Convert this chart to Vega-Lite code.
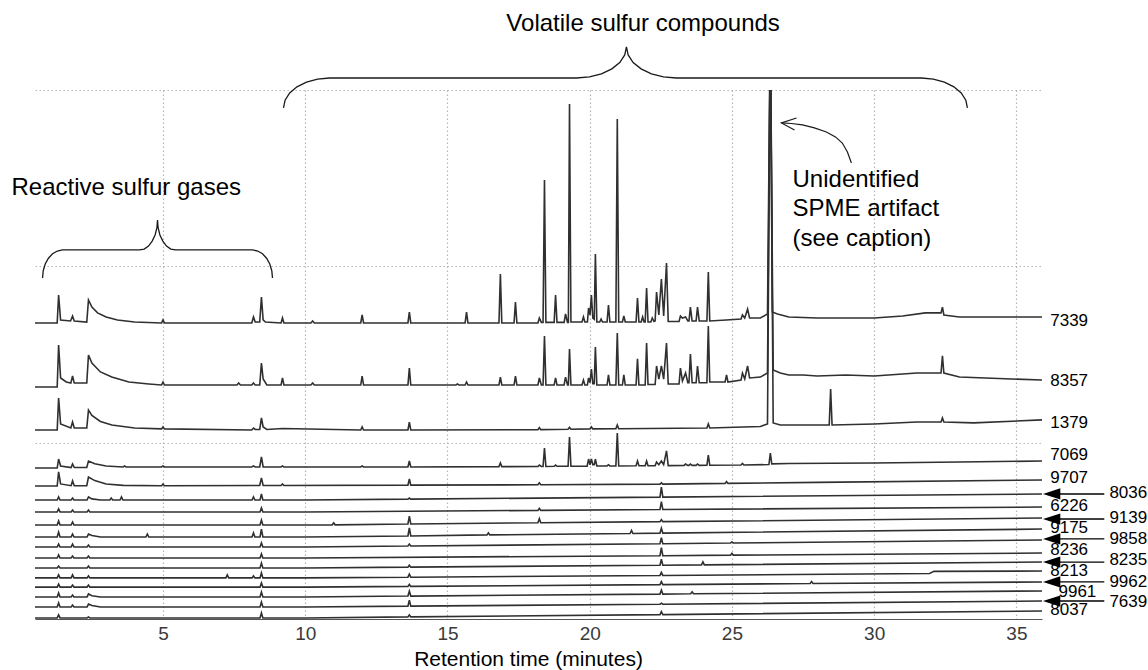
{
"$schema": "https://vega.github.io/schema/vega-lite/v6.json",
"width": 1007, "height": 529,
"autosize": {"type": "none"},
"padding": {"left": 35, "top": 90, "right": 106, "bottom": 51},
"background": "white",
"config": {"view": {"stroke": null}, "font": "Liberation Sans"},
"datasets": {
"tr": [
{"s":"7339","t":0.5,"v":167.9},{"s":"7339","t":1.28,"v":167.9},{"s":"7339","t":1.33,"v":183.7},{"s":"7339","t":1.4,"v":169.6},{"s":"7339","t":1.75,"v":169.0},{"s":"7339","t":1.82,"v":171.8},{"s":"7339","t":1.88,"v":169.0},{"s":"7339","t":2.32,"v":168.4},{"s":"7339","t":2.38,"v":180.9},{"s":"7339","t":2.5,"v":176.9},{"s":"7339","t":2.7,"v":173.6},{"s":"7339","t":3.0,"v":171.3},{"s":"7339","t":3.4,"v":169.6},{"s":"7339","t":4.0,"v":168.4},{"s":"7339","t":4.95,"v":167.9},{"s":"7339","t":5.0,"v":169.6},{"s":"7339","t":5.05,"v":167.9},{"s":"7339","t":8.12,"v":167.9},{"s":"7339","t":8.18,"v":171.3},{"s":"7339","t":8.24,"v":168.4},{"s":"7339","t":8.4,"v":168.4},{"s":"7339","t":8.46,"v":182.6},{"s":"7339","t":8.52,"v":169.6},{"s":"7339","t":8.6,"v":168.4},{"s":"7339","t":9.15,"v":167.9},{"s":"7339","t":9.2,"v":170.7},{"s":"7339","t":9.25,"v":167.9},{"s":"7339","t":10.2,"v":167.9},{"s":"7339","t":10.26,"v":169.0},{"s":"7339","t":10.32,"v":167.9},{"s":"7339","t":11.95,"v":167.9},{"s":"7339","t":12.0,"v":172.4},{"s":"7339","t":12.05,"v":167.9},{"s":"7339","t":13.61,"v":167.9},{"s":"7339","t":13.66,"v":174.1},{"s":"7339","t":13.71,"v":167.9},{"s":"7339","t":15.62,"v":167.9},{"s":"7339","t":15.67,"v":174.1},{"s":"7339","t":15.72,"v":167.9},{"s":"7339","t":16.81,"v":167.9},{"s":"7339","t":16.86,"v":195.7},{"s":"7339","t":16.91,"v":167.9},{"s":"7339","t":17.34,"v":167.9},{"s":"7339","t":17.39,"v":179.8},{"s":"7339","t":17.44,"v":167.9},{"s":"7339","t":18.18,"v":167.9},{"s":"7339","t":18.23,"v":170.7},{"s":"7339","t":18.3,"v":168.2},{"s":"7339","t":18.36,"v":168.2},{"s":"7339","t":18.41,"v":249.0},{"s":"7339","t":18.46,"v":168.2},{"s":"7339","t":18.75,"v":168.2},{"s":"7339","t":18.8,"v":183.7},{"s":"7339","t":18.85,"v":168.2},{"s":"7339","t":19.1,"v":168.2},{"s":"7339","t":19.15,"v":173.0},{"s":"7339","t":19.22,"v":168.2},{"s":"7339","t":19.25,"v":168.2},{"s":"7339","t":19.29,"v":292.1},{"s":"7339","t":19.34,"v":168.4},{"s":"7339","t":19.73,"v":168.4},{"s":"7339","t":19.78,"v":171.3},{"s":"7339","t":19.83,"v":168.4},{"s":"7339","t":19.92,"v":168.4},{"s":"7339","t":19.96,"v":176.4},{"s":"7339","t":20.01,"v":172.4},{"s":"7339","t":20.06,"v":183.7},{"s":"7339","t":20.11,"v":170.7},{"s":"7339","t":20.16,"v":170.0},{"s":"7339","t":20.2,"v":207.0},{"s":"7339","t":20.25,"v":168.4},{"s":"7339","t":20.35,"v":168.4},{"s":"7339","t":20.4,"v":170.1},{"s":"7339","t":20.45,"v":168.4},{"s":"7339","t":20.61,"v":168.4},{"s":"7339","t":20.66,"v":178.1},{"s":"7339","t":20.71,"v":168.4},{"s":"7339","t":20.92,"v":168.4},{"s":"7339","t":20.97,"v":283.6},{"s":"7339","t":21.02,"v":168.4},{"s":"7339","t":21.15,"v":168.4},{"s":"7339","t":21.2,"v":171.8},{"s":"7339","t":21.25,"v":168.4},{"s":"7339","t":21.63,"v":168.4},{"s":"7339","t":21.68,"v":182.0},{"s":"7339","t":21.73,"v":168.4},{"s":"7339","t":21.81,"v":168.4},{"s":"7339","t":21.86,"v":171.3},{"s":"7339","t":21.91,"v":168.4},{"s":"7339","t":21.95,"v":168.4},{"s":"7339","t":22.0,"v":187.7},{"s":"7339","t":22.05,"v":168.4},{"s":"7339","t":22.15,"v":168.4},{"s":"7339","t":22.2,"v":170.7},{"s":"7339","t":22.26,"v":168.7},{"s":"7339","t":22.3,"v":169.0},{"s":"7339","t":22.35,"v":185.4},{"s":"7339","t":22.43,"v":172.4},{"s":"7339","t":22.52,"v":192.8},{"s":"7339","t":22.6,"v":171.8},{"s":"7339","t":22.7,"v":201.9},{"s":"7339","t":22.76,"v":168.7},{"s":"7339","t":23.14,"v":168.7},{"s":"7339","t":23.19,"v":171.8},{"s":"7339","t":23.26,"v":170.7},{"s":"7339","t":23.37,"v":171.3},{"s":"7339","t":23.45,"v":169.0},{"s":"7339","t":23.49,"v":169.0},{"s":"7339","t":23.54,"v":176.9},{"s":"7339","t":23.6,"v":169.0},{"s":"7339","t":23.74,"v":169.0},{"s":"7339","t":23.79,"v":176.9},{"s":"7339","t":23.85,"v":169.0},{"s":"7339","t":24.12,"v":169.0},{"s":"7339","t":24.17,"v":196.8},{"s":"7339","t":24.22,"v":169.0},{"s":"7339","t":24.8,"v":169.6},{"s":"7339","t":25.32,"v":170.1},{"s":"7339","t":25.37,"v":172.4},{"s":"7339","t":25.45,"v":170.7},{"s":"7339","t":25.55,"v":175.8},{"s":"7339","t":25.62,"v":170.7},{"s":"7339","t":26.0,"v":170.7},{"s":"7339","t":26.25,"v":173.0},{"s":"7339","t":26.35,"v":340},{"s":"7339","t":26.42,"v":174.1},{"s":"7339","t":26.6,"v":173.0},{"s":"7339","t":27.0,"v":171.3},{"s":"7339","t":28.0,"v":170.7},{"s":"7339","t":30.0,"v":170.7},{"s":"7339","t":31.0,"v":171.8},{"s":"7339","t":31.8,"v":173.6},{"s":"7339","t":32.35,"v":173.6},{"s":"7339","t":32.4,"v":176.9},{"s":"7339","t":32.45,"v":172.4},{"s":"7339","t":33.0,"v":171.3},{"s":"7339","t":35.9,"v":171.3},
{"s":"8357","t":0.5,"v":131.6},{"s":"8357","t":1.28,"v":131.6},{"s":"8357","t":1.33,"v":155.4},{"s":"8357","t":1.4,"v":136.7},{"s":"8357","t":1.6,"v":134.4},{"s":"8357","t":1.76,"v":133.8},{"s":"8357","t":1.82,"v":137.8},{"s":"8357","t":1.88,"v":133.8},{"s":"8357","t":2.32,"v":133.8},{"s":"8357","t":2.38,"v":149.7},{"s":"8357","t":2.5,"v":145.2},{"s":"8357","t":2.8,"v":140.1},{"s":"8357","t":3.2,"v":137.2},{"s":"8357","t":3.8,"v":134.4},{"s":"8357","t":4.5,"v":133.3},{"s":"8357","t":4.95,"v":132.7},{"s":"8357","t":5.0,"v":134.4},{"s":"8357","t":5.05,"v":132.7},{"s":"8357","t":7.6,"v":132.7},{"s":"8357","t":7.66,"v":133.8},{"s":"8357","t":7.72,"v":132.7},{"s":"8357","t":8.12,"v":132.7},{"s":"8357","t":8.18,"v":133.8},{"s":"8357","t":8.24,"v":132.7},{"s":"8357","t":8.4,"v":132.7},{"s":"8357","t":8.46,"v":145.2},{"s":"8357","t":8.52,"v":136.1},{"s":"8357","t":8.65,"v":132.7},{"s":"8357","t":9.15,"v":132.7},{"s":"8357","t":9.2,"v":136.7},{"s":"8357","t":9.25,"v":132.7},{"s":"8357","t":10.2,"v":132.7},{"s":"8357","t":10.26,"v":133.8},{"s":"8357","t":10.32,"v":132.7},{"s":"8357","t":11.95,"v":132.7},{"s":"8357","t":12.0,"v":137.8},{"s":"8357","t":12.05,"v":132.7},{"s":"8357","t":13.61,"v":132.7},{"s":"8357","t":13.66,"v":142.3},{"s":"8357","t":13.71,"v":132.7},{"s":"8357","t":15.3,"v":132.7},{"s":"8357","t":15.35,"v":133.3},{"s":"8357","t":15.4,"v":132.7},{"s":"8357","t":15.62,"v":132.7},{"s":"8357","t":15.67,"v":134.4},{"s":"8357","t":15.72,"v":132.7},{"s":"8357","t":16.81,"v":132.7},{"s":"8357","t":16.86,"v":137.2},{"s":"8357","t":16.91,"v":132.7},{"s":"8357","t":17.34,"v":132.7},{"s":"8357","t":17.39,"v":137.8},{"s":"8357","t":17.44,"v":132.7},{"s":"8357","t":18.18,"v":132.7},{"s":"8357","t":18.23,"v":136.7},{"s":"8357","t":18.3,"v":132.7},{"s":"8357","t":18.36,"v":132.7},{"s":"8357","t":18.41,"v":160.5},{"s":"8357","t":18.46,"v":132.7},{"s":"8357","t":18.75,"v":132.7},{"s":"8357","t":18.8,"v":136.7},{"s":"8357","t":18.85,"v":132.7},{"s":"8357","t":19.1,"v":132.7},{"s":"8357","t":19.15,"v":137.2},{"s":"8357","t":19.22,"v":132.7},{"s":"8357","t":19.25,"v":132.7},{"s":"8357","t":19.29,"v":153.1},{"s":"8357","t":19.34,"v":132.7},{"s":"8357","t":19.73,"v":132.7},{"s":"8357","t":19.78,"v":135.5},{"s":"8357","t":19.83,"v":132.7},{"s":"8357","t":19.92,"v":132.7},{"s":"8357","t":19.96,"v":136.7},{"s":"8357","t":20.01,"v":134.0},{"s":"8357","t":20.06,"v":141.8},{"s":"8357","t":20.11,"v":133.5},{"s":"8357","t":20.16,"v":133.5},{"s":"8357","t":20.2,"v":154.3},{"s":"8357","t":20.25,"v":132.7},{"s":"8357","t":20.61,"v":132.7},{"s":"8357","t":20.66,"v":138.4},{"s":"8357","t":20.71,"v":132.7},{"s":"8357","t":20.92,"v":132.7},{"s":"8357","t":20.97,"v":162.2},{"s":"8357","t":21.02,"v":132.7},{"s":"8357","t":21.15,"v":132.7},{"s":"8357","t":21.2,"v":138.4},{"s":"8357","t":21.25,"v":132.7},{"s":"8357","t":21.63,"v":132.7},{"s":"8357","t":21.68,"v":147.5},{"s":"8357","t":21.73,"v":132.7},{"s":"8357","t":21.95,"v":132.7},{"s":"8357","t":22.0,"v":156.5},{"s":"8357","t":22.05,"v":133.0},{"s":"8357","t":22.3,"v":133.0},{"s":"8357","t":22.35,"v":143.5},{"s":"8357","t":22.43,"v":136.0},{"s":"8357","t":22.52,"v":143.5},{"s":"8357","t":22.6,"v":136.0},{"s":"8357","t":22.7,"v":156.5},{"s":"8357","t":22.76,"v":133.3},{"s":"8357","t":23.14,"v":133.3},{"s":"8357","t":23.19,"v":142.3},{"s":"8357","t":23.26,"v":135.0},{"s":"8357","t":23.37,"v":139.5},{"s":"8357","t":23.45,"v":134.0},{"s":"8357","t":23.49,"v":134.0},{"s":"8357","t":23.54,"v":150.3},{"s":"8357","t":23.6,"v":134.0},{"s":"8357","t":23.74,"v":134.0},{"s":"8357","t":23.79,"v":143.5},{"s":"8357","t":23.85,"v":134.0},{"s":"8357","t":24.12,"v":134.0},{"s":"8357","t":24.17,"v":166.2},{"s":"8357","t":24.22,"v":134.4},{"s":"8357","t":24.76,"v":134.4},{"s":"8357","t":24.81,"v":138.4},{"s":"8357","t":24.86,"v":134.4},{"s":"8357","t":25.32,"v":135.5},{"s":"8357","t":25.37,"v":139.5},{"s":"8357","t":25.45,"v":136.1},{"s":"8357","t":25.55,"v":143.5},{"s":"8357","t":25.62,"v":136.7},{"s":"8357","t":26.0,"v":137.2},{"s":"8357","t":26.25,"v":139.5},{"s":"8357","t":26.35,"v":340},{"s":"8357","t":26.45,"v":141.2},{"s":"8357","t":26.7,"v":139.5},{"s":"8357","t":27.0,"v":138.4},{"s":"8357","t":27.5,"v":138.4},{"s":"8357","t":28.0,"v":137.8},{"s":"8357","t":29.0,"v":138.4},{"s":"8357","t":30.0,"v":137.8},{"s":"8357","t":31.5,"v":139.5},{"s":"8357","t":32.35,"v":139.5},{"s":"8357","t":32.4,"v":149.2},{"s":"8357","t":32.45,"v":139.5},{"s":"8357","t":33.0,"v":137.2},{"s":"8357","t":35.9,"v":135.5},
{"s":"1379","t":0.5,"v":107.2},{"s":"1379","t":1.28,"v":107.2},{"s":"1379","t":1.33,"v":125.3},{"s":"1379","t":1.4,"v":110.6},{"s":"1379","t":1.76,"v":108.3},{"s":"1379","t":1.82,"v":111.7},{"s":"1379","t":1.88,"v":108.3},{"s":"1379","t":2.32,"v":108.3},{"s":"1379","t":2.38,"v":118.5},{"s":"1379","t":2.5,"v":115.5},{"s":"1379","t":2.8,"v":112.0},{"s":"1379","t":3.2,"v":110.0},{"s":"1379","t":4.0,"v":108.3},{"s":"1379","t":4.95,"v":107.8},{"s":"1379","t":5.0,"v":108.9},{"s":"1379","t":5.05,"v":107.8},{"s":"1379","t":8.12,"v":107.2},{"s":"1379","t":8.18,"v":108.3},{"s":"1379","t":8.24,"v":107.5},{"s":"1379","t":8.4,"v":107.5},{"s":"1379","t":8.46,"v":114.0},{"s":"1379","t":8.52,"v":108.9},{"s":"1379","t":8.65,"v":107.5},{"s":"1379","t":9.2,"v":108.0},{"s":"1379","t":11.95,"v":107.2},{"s":"1379","t":12.0,"v":108.9},{"s":"1379","t":12.05,"v":107.2},{"s":"1379","t":13.61,"v":107.2},{"s":"1379","t":13.66,"v":111.7},{"s":"1379","t":13.71,"v":107.2},{"s":"1379","t":18.18,"v":107.4},{"s":"1379","t":18.23,"v":108.5},{"s":"1379","t":18.28,"v":107.4},{"s":"1379","t":19.24,"v":107.6},{"s":"1379","t":19.29,"v":108.7},{"s":"1379","t":19.34,"v":107.6},{"s":"1379","t":20.01,"v":107.8},{"s":"1379","t":20.06,"v":108.9},{"s":"1379","t":20.11,"v":107.8},{"s":"1379","t":20.92,"v":107.9},{"s":"1379","t":20.97,"v":110.0},{"s":"1379","t":21.02,"v":107.9},{"s":"1379","t":24.12,"v":108.3},{"s":"1379","t":24.17,"v":110.6},{"s":"1379","t":24.22,"v":108.3},{"s":"1379","t":26.0,"v":109.2},{"s":"1379","t":26.25,"v":110.6},{"s":"1379","t":26.35,"v":340},{"s":"1379","t":26.45,"v":111.2},{"s":"1379","t":26.7,"v":110.0},{"s":"1379","t":28.42,"v":110.0},{"s":"1379","t":28.47,"v":130.4},{"s":"1379","t":28.52,"v":110.0},{"s":"1379","t":30.0,"v":110.6},{"s":"1379","t":31.5,"v":111.7},{"s":"1379","t":32.35,"v":111.7},{"s":"1379","t":32.4,"v":114.0},{"s":"1379","t":32.45,"v":111.7},{"s":"1379","t":33.5,"v":111.2},{"s":"1379","t":35.9,"v":112.9},
{"s":"7069","t":0.5,"v":85.6},{"s":"7069","t":1.28,"v":85.6},{"s":"7069","t":1.33,"v":90.7},{"s":"7069","t":1.4,"v":86.8},{"s":"7069","t":1.77,"v":85.9},{"s":"7069","t":1.82,"v":87.9},{"s":"7069","t":1.88,"v":85.9},{"s":"7069","t":2.32,"v":85.9},{"s":"7069","t":2.38,"v":89.6},{"s":"7069","t":2.6,"v":88.0},{"s":"7069","t":3.0,"v":86.8},{"s":"7069","t":3.6,"v":86.2},{"s":"7069","t":3.65,"v":86.8},{"s":"7069","t":3.7,"v":86.2},{"s":"7069","t":4.95,"v":86.2},{"s":"7069","t":5.0,"v":86.8},{"s":"7069","t":5.05,"v":86.2},{"s":"7069","t":8.12,"v":86.2},{"s":"7069","t":8.18,"v":86.8},{"s":"7069","t":8.24,"v":86.2},{"s":"7069","t":8.4,"v":86.2},{"s":"7069","t":8.46,"v":91.9},{"s":"7069","t":8.52,"v":86.2},{"s":"7069","t":9.15,"v":86.2},{"s":"7069","t":9.2,"v":86.8},{"s":"7069","t":9.25,"v":86.2},{"s":"7069","t":11.95,"v":86.2},{"s":"7069","t":12.0,"v":86.8},{"s":"7069","t":12.05,"v":86.2},{"s":"7069","t":13.61,"v":86.2},{"s":"7069","t":13.66,"v":89.6},{"s":"7069","t":13.71,"v":86.2},{"s":"7069","t":16.81,"v":86.4},{"s":"7069","t":16.86,"v":88.5},{"s":"7069","t":16.91,"v":86.4},{"s":"7069","t":18.18,"v":86.5},{"s":"7069","t":18.23,"v":87.3},{"s":"7069","t":18.3,"v":86.5},{"s":"7069","t":18.36,"v":86.5},{"s":"7069","t":18.41,"v":97.0},{"s":"7069","t":18.46,"v":86.5},{"s":"7069","t":18.75,"v":86.6},{"s":"7069","t":18.8,"v":87.3},{"s":"7069","t":18.85,"v":86.6},{"s":"7069","t":19.24,"v":86.6},{"s":"7069","t":19.29,"v":103.2},{"s":"7069","t":19.34,"v":86.6},{"s":"7069","t":19.91,"v":86.7},{"s":"7069","t":19.96,"v":90.7},{"s":"7069","t":20.01,"v":87.5},{"s":"7069","t":20.06,"v":90.7},{"s":"7069","t":20.11,"v":87.5},{"s":"7069","t":20.16,"v":87.5},{"s":"7069","t":20.2,"v":90.7},{"s":"7069","t":20.25,"v":86.8},{"s":"7069","t":20.61,"v":86.8},{"s":"7069","t":20.66,"v":87.5},{"s":"7069","t":20.71,"v":86.8},{"s":"7069","t":20.92,"v":86.8},{"s":"7069","t":20.97,"v":105.5},{"s":"7069","t":21.02,"v":86.8},{"s":"7069","t":21.63,"v":86.9},{"s":"7069","t":21.68,"v":89.6},{"s":"7069","t":21.73,"v":86.9},{"s":"7069","t":21.95,"v":86.9},{"s":"7069","t":22.0,"v":89.6},{"s":"7069","t":22.05,"v":86.9},{"s":"7069","t":22.3,"v":87.0},{"s":"7069","t":22.35,"v":89.0},{"s":"7069","t":22.43,"v":87.5},{"s":"7069","t":22.52,"v":89.6},{"s":"7069","t":22.6,"v":87.5},{"s":"7069","t":22.7,"v":95.3},{"s":"7069","t":22.76,"v":87.0},{"s":"7069","t":23.32,"v":87.1},{"s":"7069","t":23.37,"v":87.9},{"s":"7069","t":23.45,"v":87.1},{"s":"7069","t":23.49,"v":87.1},{"s":"7069","t":23.54,"v":87.9},{"s":"7069","t":23.6,"v":87.1},{"s":"7069","t":23.74,"v":87.1},{"s":"7069","t":23.79,"v":87.9},{"s":"7069","t":23.85,"v":87.1},{"s":"7069","t":24.12,"v":87.2},{"s":"7069","t":24.17,"v":93.0},{"s":"7069","t":24.22,"v":87.2},{"s":"7069","t":25.32,"v":87.3},{"s":"7069","t":25.37,"v":88.2},{"s":"7069","t":25.42,"v":87.3},{"s":"7069","t":26.3,"v":87.6},{"s":"7069","t":26.35,"v":94.1},{"s":"7069","t":26.4,"v":88.0},{"s":"7069","t":27.0,"v":88.2},{"s":"7069","t":30.0,"v":88.5},{"s":"7069","t":33.0,"v":89.0},{"s":"7069","t":35.9,"v":89.6},
{"s":"9707","t":0.5,"v":75.4},{"s":"9707","t":1.28,"v":75.4},{"s":"9707","t":1.33,"v":83.4},{"s":"9707","t":1.4,"v":76.6},{"s":"9707","t":1.77,"v":75.6},{"s":"9707","t":1.82,"v":78.3},{"s":"9707","t":1.88,"v":75.6},{"s":"9707","t":2.32,"v":75.6},{"s":"9707","t":2.38,"v":80.5},{"s":"9707","t":2.6,"v":78.5},{"s":"9707","t":3.0,"v":76.6},{"s":"9707","t":3.6,"v":75.8},{"s":"9707","t":4.95,"v":75.6},{"s":"9707","t":5.0,"v":76.6},{"s":"9707","t":5.05,"v":75.6},{"s":"9707","t":8.4,"v":75.7},{"s":"9707","t":8.46,"v":80.0},{"s":"9707","t":8.52,"v":75.7},{"s":"9707","t":9.15,"v":75.7},{"s":"9707","t":9.2,"v":76.6},{"s":"9707","t":9.25,"v":75.7},{"s":"9707","t":13.61,"v":75.9},{"s":"9707","t":13.66,"v":79.4},{"s":"9707","t":13.71,"v":75.9},{"s":"9707","t":18.18,"v":76.1},{"s":"9707","t":18.23,"v":77.2},{"s":"9707","t":18.28,"v":76.1},{"s":"9707","t":22.47,"v":76.5},{"s":"9707","t":22.52,"v":77.2},{"s":"9707","t":22.57,"v":76.5},{"s":"9707","t":24.76,"v":76.9},{"s":"9707","t":24.81,"v":77.9},{"s":"9707","t":24.86,"v":76.9},{"s":"9707","t":28.0,"v":77.5},{"s":"9707","t":35.9,"v":78.8},
{"s":"8036","t":0.5,"v":67.5},{"s":"8036","t":1.28,"v":67.5},{"s":"8036","t":1.33,"v":69.2},{"s":"8036","t":1.38,"v":67.5},{"s":"8036","t":1.77,"v":67.5},{"s":"8036","t":1.82,"v":68.6},{"s":"8036","t":1.87,"v":67.5},{"s":"8036","t":2.33,"v":67.5},{"s":"8036","t":2.38,"v":69.2},{"s":"8036","t":2.5,"v":68.1},{"s":"8036","t":2.8,"v":67.5},{"s":"8036","t":3.13,"v":67.5},{"s":"8036","t":3.18,"v":68.6},{"s":"8036","t":3.23,"v":67.5},{"s":"8036","t":3.49,"v":67.5},{"s":"8036","t":3.54,"v":69.2},{"s":"8036","t":3.59,"v":67.5},{"s":"8036","t":8.13,"v":67.5},{"s":"8036","t":8.18,"v":69.2},{"s":"8036","t":8.23,"v":67.5},{"s":"8036","t":8.41,"v":67.5},{"s":"8036","t":8.46,"v":70.9},{"s":"8036","t":8.51,"v":67.5},{"s":"8036","t":10,"v":67.5},{"s":"8036","t":13.61,"v":68.0},{"s":"8036","t":13.66,"v":68.6},{"s":"8036","t":13.71,"v":68.0},{"s":"8036","t":22.47,"v":69.1},{"s":"8036","t":22.52,"v":74.8},{"s":"8036","t":22.57,"v":69.1},{"s":"8036","t":35.9,"v":70.9},
{"s":"6226","t":0.5,"v":60.7},{"s":"6226","t":1.28,"v":60.7},{"s":"6226","t":1.33,"v":62.4},{"s":"6226","t":1.38,"v":60.7},{"s":"6226","t":1.77,"v":60.7},{"s":"6226","t":1.82,"v":61.8},{"s":"6226","t":1.87,"v":60.7},{"s":"6226","t":2.33,"v":60.7},{"s":"6226","t":2.38,"v":61.8},{"s":"6226","t":2.43,"v":60.7},{"s":"6226","t":8.41,"v":60.7},{"s":"6226","t":8.46,"v":63.0},{"s":"6226","t":8.51,"v":60.7},{"s":"6226","t":10,"v":60.7},{"s":"6226","t":18.18,"v":61.6},{"s":"6226","t":18.23,"v":62.7},{"s":"6226","t":18.28,"v":61.6},{"s":"6226","t":22.47,"v":62.1},{"s":"6226","t":22.52,"v":66.6},{"s":"6226","t":22.57,"v":62.1},{"s":"6226","t":35.9,"v":63.5},
{"s":"9139","t":0.5,"v":53.3},{"s":"9139","t":1.28,"v":53.3},{"s":"9139","t":1.33,"v":55.6},{"s":"9139","t":1.38,"v":53.3},{"s":"9139","t":1.77,"v":53.3},{"s":"9139","t":1.82,"v":55.0},{"s":"9139","t":1.87,"v":53.3},{"s":"9139","t":8.41,"v":53.3},{"s":"9139","t":8.46,"v":56.1},{"s":"9139","t":8.51,"v":53.3},{"s":"9139","t":10,"v":53.3},{"s":"9139","t":10.95,"v":53.4},{"s":"9139","t":11.0,"v":54.5},{"s":"9139","t":11.05,"v":53.4},{"s":"9139","t":13.61,"v":53.9},{"s":"9139","t":13.66,"v":58.4},{"s":"9139","t":13.71,"v":53.9},{"s":"9139","t":18.18,"v":54.6},{"s":"9139","t":18.23,"v":56.9},{"s":"9139","t":18.28,"v":54.6},{"s":"9139","t":22.47,"v":55.2},{"s":"9139","t":22.52,"v":56.3},{"s":"9139","t":22.57,"v":55.2},{"s":"9139","t":35.9,"v":57.3},
{"s":"9175","t":0.5,"v":46.5},{"s":"9175","t":1.28,"v":46.5},{"s":"9175","t":1.33,"v":49.3},{"s":"9175","t":1.38,"v":46.5},{"s":"9175","t":1.77,"v":46.5},{"s":"9175","t":1.82,"v":48.2},{"s":"9175","t":1.87,"v":46.5},{"s":"9175","t":2.33,"v":46.5},{"s":"9175","t":2.38,"v":48.2},{"s":"9175","t":2.5,"v":47.4},{"s":"9175","t":2.8,"v":46.5},{"s":"9175","t":4.4,"v":46.5},{"s":"9175","t":4.45,"v":48.2},{"s":"9175","t":4.5,"v":46.5},{"s":"9175","t":8.13,"v":46.5},{"s":"9175","t":8.18,"v":48.8},{"s":"9175","t":8.23,"v":46.5},{"s":"9175","t":8.41,"v":46.5},{"s":"9175","t":8.46,"v":51.0},{"s":"9175","t":8.51,"v":46.5},{"s":"9175","t":10,"v":46.5},{"s":"9175","t":13.61,"v":47.1},{"s":"9175","t":13.66,"v":51.6},{"s":"9175","t":13.71,"v":47.1},{"s":"9175","t":16.39,"v":47.7},{"s":"9175","t":16.44,"v":48.8},{"s":"9175","t":16.49,"v":47.7},{"s":"9175","t":21.42,"v":48.5},{"s":"9175","t":21.47,"v":50.2},{"s":"9175","t":21.52,"v":48.5},{"s":"9175","t":22.47,"v":48.7},{"s":"9175","t":22.52,"v":51.5},{"s":"9175","t":22.57,"v":48.7},{"s":"9175","t":35.9,"v":51.0},
{"s":"9858","t":0.5,"v":40.8},{"s":"9858","t":1.28,"v":40.8},{"s":"9858","t":1.33,"v":42.5},{"s":"9858","t":1.38,"v":40.8},{"s":"9858","t":1.77,"v":40.8},{"s":"9858","t":1.82,"v":42.5},{"s":"9858","t":1.87,"v":40.8},{"s":"9858","t":2.33,"v":40.8},{"s":"9858","t":2.38,"v":41.9},{"s":"9858","t":2.43,"v":40.8},{"s":"9858","t":8.41,"v":40.8},{"s":"9858","t":8.46,"v":43.1},{"s":"9858","t":8.51,"v":40.8},{"s":"9858","t":10,"v":40.8},{"s":"9858","t":13.61,"v":41.4},{"s":"9858","t":13.66,"v":42.5},{"s":"9858","t":13.71,"v":41.4},{"s":"9858","t":22.47,"v":42.7},{"s":"9858","t":22.52,"v":46.1},{"s":"9858","t":22.57,"v":42.7},{"s":"9858","t":24.95,"v":43.1},{"s":"9858","t":25.0,"v":43.7},{"s":"9858","t":25.05,"v":43.1},{"s":"9858","t":35.9,"v":44.8},
{"s":"8236","t":0.5,"v":34.6},{"s":"8236","t":1.28,"v":34.6},{"s":"8236","t":1.33,"v":36.3},{"s":"8236","t":1.38,"v":34.6},{"s":"8236","t":1.77,"v":34.6},{"s":"8236","t":1.82,"v":35.7},{"s":"8236","t":1.87,"v":34.6},{"s":"8236","t":2.33,"v":34.6},{"s":"8236","t":2.38,"v":35.7},{"s":"8236","t":2.43,"v":34.6},{"s":"8236","t":8.41,"v":34.6},{"s":"8236","t":8.46,"v":36.9},{"s":"8236","t":8.51,"v":34.6},{"s":"8236","t":10,"v":34.6},{"s":"8236","t":22.47,"v":35.9},{"s":"8236","t":22.52,"v":40.4},{"s":"8236","t":22.57,"v":35.9},{"s":"8236","t":24.95,"v":36.2},{"s":"8236","t":25.0,"v":37.3},{"s":"8236","t":25.05,"v":36.2},{"s":"8236","t":35.9,"v":37.4},
{"s":"8235","t":0.5,"v":28.9},{"s":"8235","t":1.28,"v":28.9},{"s":"8235","t":1.33,"v":30.0},{"s":"8235","t":1.38,"v":28.9},{"s":"8235","t":2.33,"v":28.9},{"s":"8235","t":2.38,"v":30.0},{"s":"8235","t":2.43,"v":28.9},{"s":"8235","t":8.41,"v":28.9},{"s":"8235","t":8.46,"v":31.7},{"s":"8235","t":8.51,"v":28.9},{"s":"8235","t":10,"v":28.9},{"s":"8235","t":13.61,"v":29.4},{"s":"8235","t":13.66,"v":30.5},{"s":"8235","t":13.71,"v":29.4},{"s":"8235","t":22.47,"v":30.5},{"s":"8235","t":22.52,"v":33.9},{"s":"8235","t":22.57,"v":30.5},{"s":"8235","t":23.93,"v":30.7},{"s":"8235","t":23.98,"v":32.4},{"s":"8235","t":24.03,"v":30.7},{"s":"8235","t":35.9,"v":32.3},
{"s":"8213","t":0.5,"v":23.3},{"s":"8213","t":1.28,"v":23.3},{"s":"8213","t":1.33,"v":25.0},{"s":"8213","t":1.38,"v":23.3},{"s":"8213","t":1.77,"v":23.3},{"s":"8213","t":1.82,"v":25.0},{"s":"8213","t":1.87,"v":23.3},{"s":"8213","t":2.33,"v":23.3},{"s":"8213","t":2.38,"v":24.4},{"s":"8213","t":2.43,"v":23.3},{"s":"8213","t":7.21,"v":23.3},{"s":"8213","t":7.26,"v":25.0},{"s":"8213","t":7.31,"v":23.3},{"s":"8213","t":8.13,"v":23.3},{"s":"8213","t":8.18,"v":24.4},{"s":"8213","t":8.23,"v":23.3},{"s":"8213","t":8.41,"v":23.3},{"s":"8213","t":8.46,"v":26.1},{"s":"8213","t":8.51,"v":23.3},{"s":"8213","t":10,"v":23.3},{"s":"8213","t":13.61,"v":23.7},{"s":"8213","t":13.66,"v":25.4},{"s":"8213","t":13.71,"v":23.7},{"s":"8213","t":22.47,"v":24.7},{"s":"8213","t":22.52,"v":26.4},{"s":"8213","t":22.57,"v":24.7},{"s":"8213","t":31.95,"v":25.8},{"s":"8213","t":32.1,"v":27.0},{"s":"8213","t":35.9,"v":27.2},
{"s":"9962","t":0.5,"v":18.1},{"s":"9962","t":1.28,"v":18.1},{"s":"9962","t":1.33,"v":19.8},{"s":"9962","t":1.38,"v":18.1},{"s":"9962","t":1.77,"v":18.1},{"s":"9962","t":1.82,"v":19.2},{"s":"9962","t":1.87,"v":18.1},{"s":"9962","t":2.33,"v":18.1},{"s":"9962","t":2.38,"v":19.2},{"s":"9962","t":2.43,"v":18.1},{"s":"9962","t":8.41,"v":18.1},{"s":"9962","t":8.46,"v":20.4},{"s":"9962","t":8.51,"v":18.1},{"s":"9962","t":10,"v":18.1},{"s":"9962","t":13.61,"v":18.5},{"s":"9962","t":13.66,"v":19.6},{"s":"9962","t":13.71,"v":18.5},{"s":"9962","t":22.47,"v":19.5},{"s":"9962","t":22.52,"v":21.2},{"s":"9962","t":22.57,"v":19.5},{"s":"9962","t":27.75,"v":20.1},{"s":"9962","t":27.8,"v":21.2},{"s":"9962","t":27.85,"v":20.1},{"s":"9962","t":35.9,"v":21.0},
{"s":"9961","t":0.5,"v":12.5},{"s":"9961","t":1.28,"v":12.5},{"s":"9961","t":1.33,"v":14.8},{"s":"9961","t":1.38,"v":12.5},{"s":"9961","t":1.77,"v":12.5},{"s":"9961","t":1.82,"v":13.6},{"s":"9961","t":1.87,"v":12.5},{"s":"9961","t":2.33,"v":12.5},{"s":"9961","t":2.38,"v":14.2},{"s":"9961","t":2.5,"v":13.2},{"s":"9961","t":2.8,"v":12.5},{"s":"9961","t":8.41,"v":12.5},{"s":"9961","t":8.46,"v":15.3},{"s":"9961","t":8.51,"v":12.5},{"s":"9961","t":10,"v":12.5},{"s":"9961","t":13.61,"v":13.0},{"s":"9961","t":13.66,"v":15.8},{"s":"9961","t":13.71,"v":13.0},{"s":"9961","t":22.47,"v":14.1},{"s":"9961","t":22.52,"v":16.4},{"s":"9961","t":22.57,"v":14.1},{"s":"9961","t":23.55,"v":14.3},{"s":"9961","t":23.6,"v":15.4},{"s":"9961","t":23.65,"v":14.3},{"s":"9961","t":35.9,"v":15.9},
{"s":"7639","t":0.5,"v":6.8},{"s":"7639","t":1.28,"v":6.8},{"s":"7639","t":1.33,"v":9.1},{"s":"7639","t":1.38,"v":6.8},{"s":"7639","t":1.77,"v":6.8},{"s":"7639","t":1.82,"v":7.9},{"s":"7639","t":1.87,"v":6.8},{"s":"7639","t":2.33,"v":6.8},{"s":"7639","t":2.38,"v":8.5},{"s":"7639","t":2.5,"v":7.6},{"s":"7639","t":2.8,"v":6.8},{"s":"7639","t":8.41,"v":6.8},{"s":"7639","t":8.46,"v":9.6},{"s":"7639","t":8.51,"v":6.8},{"s":"7639","t":10,"v":6.8},{"s":"7639","t":13.61,"v":7.3},{"s":"7639","t":13.66,"v":10.7},{"s":"7639","t":13.71,"v":7.3},{"s":"7639","t":22.47,"v":8.4},{"s":"7639","t":22.52,"v":9.0},{"s":"7639","t":22.57,"v":8.4},{"s":"7639","t":35.9,"v":10.2},
{"s":"8037","t":0.5,"v":0.6},{"s":"8037","t":1.28,"v":0.6},{"s":"8037","t":1.33,"v":2.3},{"s":"8037","t":1.38,"v":0.6},{"s":"8037","t":2.33,"v":0.6},{"s":"8037","t":2.38,"v":1.2},{"s":"8037","t":2.43,"v":0.6},{"s":"8037","t":8.41,"v":0.6},{"s":"8037","t":8.46,"v":3.4},{"s":"8037","t":8.51,"v":0.6},{"s":"8037","t":10,"v":0.6},{"s":"8037","t":13.61,"v":1.2},{"s":"8037","t":13.66,"v":2.3},{"s":"8037","t":13.71,"v":1.2},{"s":"8037","t":22.47,"v":2.5},{"s":"8037","t":22.52,"v":4.2},{"s":"8037","t":22.57,"v":2.5},{"s":"8037","t":35.9,"v":4.5}
],
"labels": [
{"name":"7339","t":36.19,"v":169.2},{"name":"8357","t":36.19,"v":135.0},{"name":"1379","t":36.19,"v":111.3},{"name":"7069","t":36.19,"v":93.0},{"name":"9707","t":36.19,"v":80.0},{"name":"8036","t":38.27,"v":71.5},{"name":"6226","t":36.19,"v":64.1},{"name":"9139","t":38.27,"v":57.3},{"name":"9175","t":36.19,"v":51.6},{"name":"9858","t":38.27,"v":45.4},{"name":"8236","t":36.19,"v":39.1},{"name":"8235","t":38.27,"v":33.5},{"name":"8213","t":36.19,"v":27.2},{"name":"9962","t":38.27,"v":21.0},{"name":"9961","t":36.48,"v":15.3},{"name":"7639","t":38.27,"v":9.6},{"name":"8037","t":36.19,"v":5.1}
],
"arrows": [
{"name":"8036","t":36.41,"t2":38.09,"tip":36.24,"v":70.9},{"name":"9139","t":36.41,"t2":38.09,"tip":36.24,"v":56.7},{"name":"9858","t":36.41,"t2":38.09,"tip":36.24,"v":45.4},{"name":"8235","t":36.41,"t2":38.09,"tip":36.24,"v":32.3},{"name":"9962","t":36.41,"t2":38.09,"tip":36.24,"v":21.0},{"name":"7639","t":36.41,"t2":38.09,"tip":36.24,"v":10.2}
],
"notes": [
{"text":"Volatile sulfur compounds","t":17.07,"v":333.5},{"text":"Reactive sulfur gases","t":-0.325,"v":240.5},{"text":"Unidentified","t":27.13,"v":245.0},{"text":"SPME artifact","t":27.13,"v":228.3},{"text":"(see caption)","t":27.13,"v":211.5}
],
"braces": [
{"b":"vol","t":9.235,"v":289.8},{"b":"vol","t":9.292,"v":294.2},{"b":"vol","t":9.453,"v":298.3},{"b":"vol","t":9.71,"v":301.8},{"b":"vol","t":10.044,"v":304.5},{"b":"vol","t":10.434,"v":306.2},{"b":"vol","t":10.852,"v":306.8},{"b":"vol","t":19.534,"v":306.8},{"b":"vol","t":19.991,"v":307.4},{"b":"vol","t":20.413,"v":309.2},{"b":"vol","t":20.779,"v":312.0},{"b":"vol","t":21.056,"v":315.6},{"b":"vol","t":21.232,"v":319.9},{"b":"vol","t":21.292,"v":324.4},{"b":"vol","t":21.351,"v":319.9},{"b":"vol","t":21.527,"v":315.6},{"b":"vol","t":21.805,"v":312.0},{"b":"vol","t":22.17,"v":309.2},{"b":"vol","t":22.592,"v":307.4},{"b":"vol","t":23.049,"v":306.8},{"b":"vol","t":31.661,"v":306.8},{"b":"vol","t":32.079,"v":306.2},{"b":"vol","t":32.469,"v":304.5},{"b":"vol","t":32.803,"v":301.8},{"b":"vol","t":33.06,"v":298.3},{"b":"vol","t":33.222,"v":294.2},{"b":"vol","t":33.278,"v":289.8},
{"b":"rea","t":0.765,"v":193.4},{"b":"rea","t":0.789,"v":197.5},{"b":"rea","t":0.859,"v":201.3},{"b":"rea","t":0.972,"v":204.6},{"b":"rea","t":1.116,"v":207.1},{"b":"rea","t":1.285,"v":208.7},{"b":"rea","t":1.467,"v":209.3},{"b":"rea","t":4.174,"v":209.3},{"b":"rea","t":4.339,"v":209.8},{"b":"rea","t":4.49,"v":211.5},{"b":"rea","t":4.62,"v":214.3},{"b":"rea","t":4.722,"v":217.8},{"b":"rea","t":4.786,"v":221.9},{"b":"rea","t":4.807,"v":226.3},{"b":"rea","t":4.828,"v":221.9},{"b":"rea","t":4.891,"v":217.8},{"b":"rea","t":4.993,"v":214.3},{"b":"rea","t":5.123,"v":211.5},{"b":"rea","t":5.274,"v":209.8},{"b":"rea","t":5.439,"v":209.3},{"b":"rea","t":8.146,"v":209.3},{"b":"rea","t":8.329,"v":208.7},{"b":"rea","t":8.497,"v":207.1},{"b":"rea","t":8.641,"v":204.6},{"b":"rea","t":8.754,"v":201.3},{"b":"rea","t":8.824,"v":197.5},{"b":"rea","t":8.849,"v":193.4}
],
"pointer": [
{"g":"curve","o":1,"t":29.2,"v":258.6},{"g":"curve","o":2,"t":29.06,"v":264.8},{"g":"curve","o":3,"t":28.88,"v":269.9},{"g":"curve","o":4,"t":28.64,"v":273.4},{"g":"curve","o":5,"t":28.32,"v":276.2},{"g":"curve","o":6,"t":27.9,"v":278.5},{"g":"curve","o":7,"t":27.48,"v":280.2},{"g":"curve","o":8,"t":27.09,"v":281.0},{"g":"curve","o":9,"t":26.74,"v":281.3},
{"g":"head","o":1,"t":27.27,"v":284.1},{"g":"head","o":2,"t":26.74,"v":281.3},{"g":"head","o":3,"t":27.2,"v":277.3}
]
},
"layer": [
{
"data": {"name": "tr"},
"mark": {"type": "line", "clip": true, "stroke": "#303030", "strokeWidth": 1.6},
"encoding": {
"x": {"field": "t", "type": "quantitative", "scale": {"domain": [0.5, 35.9], "nice": false, "zero": false},
"axis": {"values": [5, 10, 15, 20, 25, 30, 35], "grid": true, "gridColor": "#b5b5b5", "gridDash": [1.5, 2.5], "gridWidth": 1.2, "ticks": false, "tickSize": 0, "domain": true, "domainColor": "#555", "domainWidth": 1.2, "labelFontSize": 19, "labelColor": "#3a3a3a", "labelBaseline": "alphabetic", "labelPadding": 20, "title": "Retention time (minutes)", "titleFontSize": 21, "titleFontWeight": "normal", "titleColor": "#000", "titleX": 493, "titleY": 46, "titleBaseline": "alphabetic", "titleAlign": "center"}},
"y": {"field": "v", "type": "quantitative", "scale": {"domain": [0, 300], "nice": false, "zero": false},
"axis": {"values": [100, 200, 300], "grid": true, "gridColor": "#b5b5b5", "gridDash": [1.5, 2.5], "gridWidth": 1.2, "ticks": false, "domain": false, "labels": false, "title": null}},
"detail": {"field": "s", "type": "nominal"}
}
},
{
"data": {"name": "braces"},
"mark": {"type": "line", "stroke": "#1a1a1a", "strokeWidth": 1.3},
"encoding": {
"x": {"field": "t", "type": "quantitative", "scale": {"domain": [0.5, 35.9], "nice": false, "zero": false}},
"y": {"field": "v", "type": "quantitative", "scale": {"domain": [0, 300], "nice": false, "zero": false}},
"detail": {"field": "b", "type": "nominal"}
}
},
{
"data": {"name": "pointer"},
"mark": {"type": "line", "stroke": "#1a1a1a", "strokeWidth": 1.2, "interpolate": "linear"},
"encoding": {
"x": {"field": "t", "type": "quantitative", "scale": {"domain": [0.5, 35.9], "nice": false, "zero": false}},
"y": {"field": "v", "type": "quantitative", "scale": {"domain": [0, 300], "nice": false, "zero": false}},
"detail": {"field": "g", "type": "nominal"},
"order": {"field": "o", "type": "quantitative"}
}
},
{
"data": {"name": "notes"},
"mark": {"type": "text", "align": "left", "baseline": "alphabetic", "fontSize": 24, "color": "#000"},
"encoding": {
"x": {"field": "t", "type": "quantitative", "scale": {"domain": [0.5, 35.9], "nice": false, "zero": false}},
"y": {"field": "v", "type": "quantitative", "scale": {"domain": [0, 300], "nice": false, "zero": false}},
"text": {"field": "text"}
}
},
{
"data": {"name": "labels"},
"mark": {"type": "text", "align": "left", "baseline": "middle", "fontSize": 17, "color": "#000"},
"encoding": {
"x": {"field": "t", "type": "quantitative", "scale": {"domain": [0.5, 35.9], "nice": false, "zero": false}},
"y": {"field": "v", "type": "quantitative", "scale": {"domain": [0, 300], "nice": false, "zero": false}},
"text": {"field": "name"}
}
},
{
"data": {"name": "arrows"},
"mark": {"type": "rule", "stroke": "#000", "strokeWidth": 1.3},
"encoding": {
"x": {"field": "t", "type": "quantitative", "scale": {"domain": [0.5, 35.9], "nice": false, "zero": false}},
"x2": {"field": "t2"},
"y": {"field": "v", "type": "quantitative", "scale": {"domain": [0, 300], "nice": false, "zero": false}}
}
},
{
"data": {"name": "arrows"},
"mark": {"type": "point", "shape": "M -1 0 L 1 -0.65 L 1 0.65 Z", "filled": true, "color": "#000", "size": 300, "opacity": 1},
"encoding": {
"x": {"field": "tip", "type": "quantitative", "scale": {"domain": [0.5, 35.9], "nice": false, "zero": false}},
"y": {"field": "v", "type": "quantitative", "scale": {"domain": [0, 300], "nice": false, "zero": false}}
}
}
]
}
